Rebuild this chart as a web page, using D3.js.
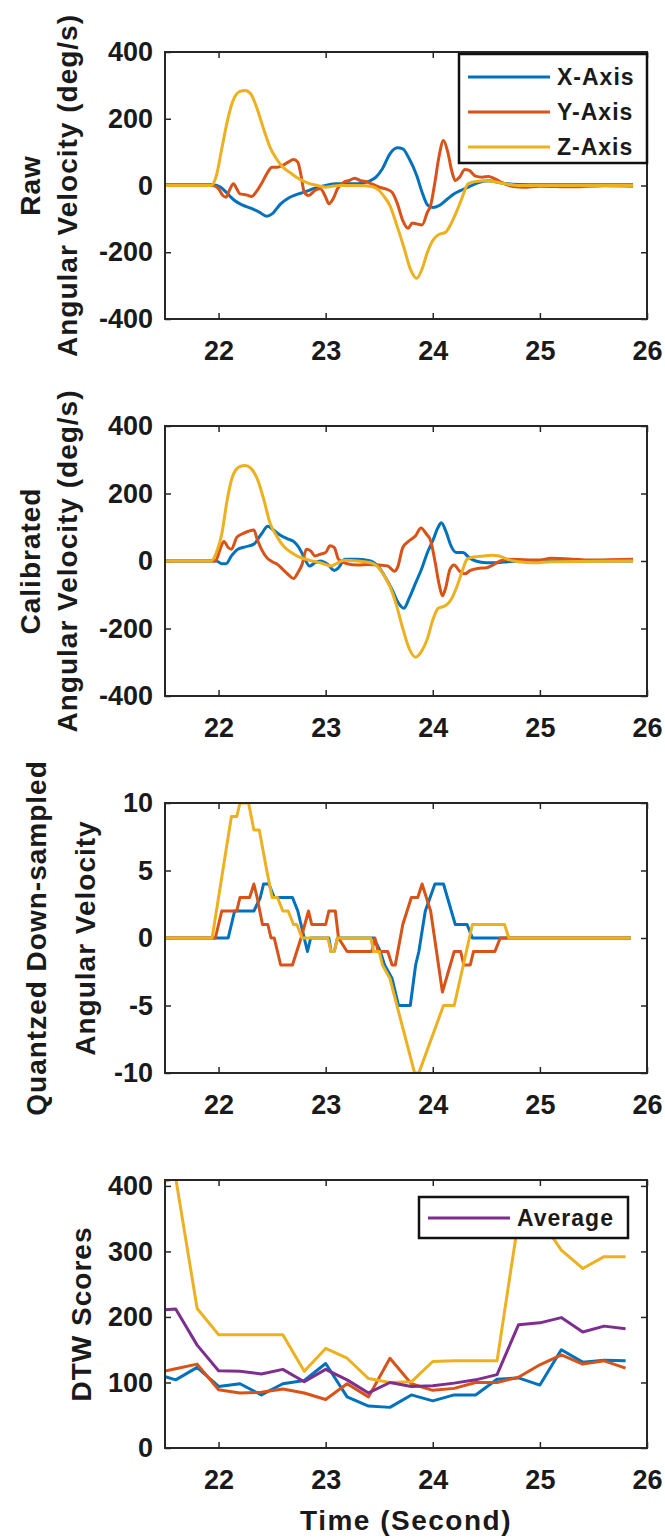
<!DOCTYPE html>
<html lang="en">
<head>
<meta charset="UTF-8" />
<title>Angular Velocity and DTW Scores</title>
<script src="https://d3js.org/d3.v7.min.js"></script>
<style>
  body { margin: 0; background: #fff; }
  svg { display: block; }
  text { font-family: "Liberation Sans", Arial, sans-serif; font-weight: bold; fill: #1a1a1a; }
  .tick text { font-size: 27px; }
  .axis line { stroke: #262626; stroke-width: 1.5; }
  .axis path { display: none; }
  .frame { fill: none; stroke: #262626; stroke-width: 2; }
  .ylab { font-size: 28px; letter-spacing: 1px; }
  .legend text { font-size: 23px; letter-spacing: 1px; }
</style>
</head>
<body>
<svg width="665" height="1538"></svg>
<script>
// time ticks shared by every panel
const timeTicks = [22, 23, 24, 25, 26];
const axisNames = ["X-Axis", "Y-Axis", "Z-Axis"];

// raw angular velocity (deg/s), [time, value]
const rawX = [[21.5,2],[21.95,2],[22.02,-5],[22.1,-30],[22.15,-45],[22.22,-58],[22.3,-68],[22.38,-80],[22.45,-92],[22.5,-85],[22.58,-55],[22.65,-38],[22.72,-28],[22.8,-20],[22.9,-8],[23.0,0],[23.1,5],[23.2,5],[23.3,5],[23.4,12],[23.47,25],[23.53,50],[23.6,95],[23.67,113],[23.72,110],[23.78,80],[23.85,30],[23.9,-20],[23.95,-58],[24.0,-66],[24.06,-60],[24.12,-45],[24.2,-25],[24.28,-12],[24.35,-2],[24.42,8],[24.52,14],[24.6,10],[24.7,5],[24.8,3],[25.0,2],[25.87,2]];
const rawY = [[21.5,0],[21.95,0],[22.0,-10],[22.04,-30],[22.07,-35],[22.1,-15],[22.14,5],[22.17,-10],[22.2,-25],[22.26,-28],[22.31,-33],[22.35,-20],[22.4,5],[22.45,35],[22.5,55],[22.55,55],[22.6,60],[22.65,70],[22.7,78],[22.74,70],[22.77,30],[22.8,-20],[22.84,-30],[22.9,-15],[22.95,-10],[23.0,-35],[23.03,-55],[23.07,-40],[23.11,-10],[23.17,10],[23.22,15],[23.27,22],[23.32,15],[23.37,12],[23.43,5],[23.5,-5],[23.56,-10],[23.62,-20],[23.67,-55],[23.72,-105],[23.77,-128],[23.81,-112],[23.85,-115],[23.9,-118],[23.95,-80],[23.98,-60],[24.02,10],[24.06,90],[24.1,135],[24.14,100],[24.18,40],[24.21,15],[24.25,25],[24.3,48],[24.34,45],[24.4,28],[24.46,25],[24.52,27],[24.58,20],[24.65,8],[24.75,-3],[24.85,-5],[25.0,-2],[25.3,-4],[25.6,-1],[25.87,-2]];
const rawZ = [[21.5,0],[21.93,0],[21.98,30],[22.03,110],[22.08,190],[22.13,250],[22.2,282],[22.25,285],[22.3,275],[22.36,230],[22.42,170],[22.48,115],[22.54,80],[22.6,55],[22.67,38],[22.75,20],[22.83,8],[22.92,0],[23.0,-5],[23.05,-3],[23.12,0],[23.3,0],[23.43,-3],[23.5,-15],[23.55,-35],[23.6,-60],[23.66,-115],[23.73,-185],[23.79,-250],[23.85,-278],[23.9,-250],[23.95,-200],[24.0,-165],[24.05,-148],[24.12,-140],[24.17,-115],[24.22,-80],[24.27,-40],[24.33,5],[24.4,12],[24.5,14],[24.6,10],[24.7,4],[24.8,0],[25.87,0]];

// calibrated angular velocity (deg/s)
const calX = [[21.5,0],[21.98,0],[22.03,-8],[22.07,-8],[22.12,15],[22.18,35],[22.25,42],[22.33,50],[22.4,80],[22.46,103],[22.5,95],[22.57,78],[22.65,65],[22.7,58],[22.75,40],[22.8,10],[22.85,-15],[22.9,-5],[22.95,0],[23.02,-10],[23.08,-28],[23.12,-20],[23.18,5],[23.3,5],[23.42,0],[23.5,-20],[23.56,-50],[23.62,-85],[23.68,-125],[23.73,-140],[23.78,-110],[23.84,-65],[23.9,-20],[23.95,25],[24.0,60],[24.05,100],[24.08,113],[24.12,90],[24.17,45],[24.22,25],[24.28,25],[24.34,10],[24.4,0],[24.5,-5],[24.6,-5],[24.7,-2],[24.8,0],[25.87,0]];
const calY = [[21.5,0],[21.97,0],[22.02,40],[22.05,58],[22.09,40],[22.12,35],[22.17,70],[22.22,80],[22.28,88],[22.33,92],[22.36,65],[22.4,35],[22.45,10],[22.5,-2],[22.55,-10],[22.6,-25],[22.65,-40],[22.7,-52],[22.74,-35],[22.78,-10],[22.82,35],[22.86,30],[22.9,15],[22.95,20],[23.0,25],[23.04,45],[23.08,40],[23.12,5],[23.2,-8],[23.3,-12],[23.4,-10],[23.5,-12],[23.58,-15],[23.64,-30],[23.67,-20],[23.72,40],[23.78,60],[23.84,75],[23.89,98],[23.94,80],[23.98,60],[24.02,0],[24.06,-70],[24.09,-103],[24.12,-80],[24.16,-25],[24.2,-12],[24.25,-30],[24.3,-38],[24.35,-28],[24.42,-22],[24.5,-20],[24.56,-12],[24.63,0],[24.7,5],[25.0,3],[25.1,8],[25.5,3],[25.87,5]];
const calZ = [[21.5,0],[21.93,0],[21.98,25],[22.03,80],[22.08,180],[22.13,250],[22.2,280],[22.25,283],[22.3,275],[22.36,245],[22.42,185],[22.48,113],[22.55,70],[22.61,43],[22.68,25],[22.75,12],[22.85,2],[22.95,-5],[23.05,-15],[23.1,-8],[23.17,2],[23.3,0],[23.42,-5],[23.48,-15],[23.53,-35],[23.6,-75],[23.66,-130],[23.72,-200],[23.78,-260],[23.84,-285],[23.89,-270],[23.95,-230],[24.0,-175],[24.05,-140],[24.12,-132],[24.17,-115],[24.22,-80],[24.27,-35],[24.32,5],[24.38,12],[24.46,14],[24.55,17],[24.62,15],[24.7,5],[24.8,-2],[24.95,-5],[25.1,-2],[25.87,0]];

// quantized down-sampled angular velocity
const qX = [[21.5,0],[22.09,0],[22.15,2],[22.33,2],[22.39,3],[22.42,4],[22.47,4],[22.52,3],[22.69,3],[22.74,2],[22.77,1],[22.8,0],[22.83,-1],[22.86,0],[23.03,0],[23.05,-1],[23.08,-1],[23.11,0],[23.45,0],[23.51,-1],[23.55,-2],[23.62,-3],[23.68,-5],[23.79,-5],[23.84,-2],[23.87,-1],[23.93,2],[24.02,4],[24.1,4],[24.21,1],[24.32,1],[24.37,0],[25.85,0]];
const qY = [[21.5,0],[21.97,0],[22.03,2],[22.17,2],[22.2,3],[22.29,3],[22.33,4],[22.36,3],[22.41,1],[22.46,1],[22.49,0],[22.52,0],[22.58,-2],[22.69,-2],[22.77,0],[22.84,2],[22.87,1],[23.0,1],[23.03,2],[23.09,2],[23.12,0],[23.2,-1],[23.43,-1],[23.46,0],[23.49,-1],[23.58,-1],[23.62,-2],[23.65,-2],[23.72,1],[23.8,3],[23.86,3],[23.9,4],[23.94,3],[23.98,2],[24.09,-4],[24.2,-1],[24.26,-1],[24.29,-2],[24.35,-2],[24.38,-1],[24.58,-1],[24.63,0],[25.85,0]];
const qZ = [[21.5,0],[21.94,0],[22.0,3],[22.06,6],[22.1,8],[22.12,9],[22.17,9],[22.2,10],[22.28,10],[22.33,8],[22.38,8],[22.45,5],[22.5,3],[22.55,3],[22.6,2],[22.65,2],[22.7,1],[22.73,1],[22.78,0],[23.02,0],[23.05,-1],[23.08,-1],[23.11,0],[23.42,0],[23.45,-1],[23.5,-1],[23.53,-2],[23.6,-3],[23.83,-10],[23.87,-10],[24.1,-5],[24.2,-5],[24.37,1],[24.67,1],[24.71,0],[25.85,0]];

// DTW scores, one value per window time
const dtwTime = [21.4,21.6,21.8,22.0,22.2,22.4,22.6,22.8,23.0,23.2,23.4,23.6,23.8,24.0,24.2,24.4,24.6,24.8,25.0,25.2,25.4,25.6,25.8];
const dtwX   = [114,104,123,94,98,81,98,103,129,78,64,62,81,72,81,81,105,107,96,150,131,134,133];
const dtwY   = [114,121,128,89,84,85,90,84,74,98,78,137,98,88,91,100,100,108,127,142,128,133,122];
const dtwZ   = [402,412,213,173,173,173,173,117,152,137,106,100,101,132,133,133,133,348,350,302,274,292,292];
const dtwAvg = [210,212,157,118,117,113,120,101,120,104,84,100,94,95,99,104,112,188,191,199,177,186,182];

const colors = { x: "#0072BD", y: "#D95319", z: "#EDB120", avg: "#7E2F8E" };

const svg = d3.select("svg");
const x = d3.scaleLinear().domain([21.5, 26]).range([165, 647]);

function drawPanel(p, idx) {
  const y = d3.scaleLinear().domain(p.yDomain).range([p.bottom, p.top]);
  const g = svg.append("g");

  g.append("clipPath").attr("id", "clip" + idx)
    .append("rect")
    .attr("x", x.range()[0]).attr("y", p.top)
    .attr("width", x.range()[1] - x.range()[0]).attr("height", p.bottom - p.top);

  // axes, MATLAB style: ticks inside on all four sides
  g.append("g").attr("class", "axis")
    .attr("transform", `translate(0,${p.bottom})`)
    .call(d3.axisBottom(x).tickValues(timeTicks).tickSize(-6).tickPadding(22).tickFormat(d => String(d)));
  g.append("g").attr("class", "axis")
    .attr("transform", `translate(0,${p.top})`)
    .call(d3.axisTop(x).tickValues(timeTicks).tickSize(-6).tickFormat(""));
  g.append("g").attr("class", "axis")
    .attr("transform", `translate(${x.range()[0]},0)`)
    .call(d3.axisLeft(y).tickValues(p.yTicks).tickSize(-6).tickPadding(12).tickFormat(d => String(d)));
  g.append("g").attr("class", "axis")
    .attr("transform", `translate(${x.range()[1]},0)`)
    .call(d3.axisRight(y).tickValues(p.yTicks).tickSize(-6).tickFormat(""));

  const line = d3.line().x(d => x(d[0])).y(d => y(d[1])).curve(p.smooth ? d3.curveMonotoneX : d3.curveLinear);
  p.series.forEach(s => {
    g.append("path")
      .datum(s.data)
      .attr("clip-path", `url(#clip${idx})`)
      .attr("fill", "none")
      .attr("stroke", s.color)
      .attr("stroke-width", 3)
      .attr("stroke-linejoin", "round")
      .attr("d", line);
  });

  g.append("rect").attr("class", "frame")
    .attr("x", x.range()[0]).attr("y", p.top)
    .attr("width", x.range()[1] - x.range()[0]).attr("height", p.bottom - p.top);

  // legend
  if (p.legend) {
    const L = p.legend;
    const lg = g.append("g").attr("class", "legend");
    lg.append("rect")
      .attr("x", L.x).attr("y", L.y).attr("width", L.w).attr("height", L.h)
      .attr("fill", "#fff").attr("stroke", "#111").attr("stroke-width", 2.5);
    L.items.forEach((it, i) => {
      const ly = L.y + L.first + i * L.step;
      lg.append("line")
        .attr("x1", L.x + 9).attr("x2", L.x + 91)
        .attr("y1", ly).attr("y2", ly)
        .attr("stroke", it.color).attr("stroke-width", 3);
      lg.append("text")
        .attr("x", L.x + 98).attr("y", ly + 8)
        .text(it.label);
    });
  }

  // y label (one or two lines)
  p.ylabel.forEach(l => {
    g.append("text").attr("class", "ylab")
      .attr("text-anchor", "middle")
      .attr("transform", `translate(${l.x},${(p.top + p.bottom) / 2}) rotate(-90)`)
      .text(l.text);
  });
}

const zip = (t, v) => t.map((d, i) => [d, v[i]]);

const panels = [
  {
    top: 52, bottom: 319, yDomain: [-400, 400], yTicks: [-400, -200, 0, 200, 400], smooth: true,
    series: [
      { data: rawX, color: colors.x },
      { data: rawY, color: colors.y },
      { data: rawZ, color: colors.z }
    ],
    legend: {
      x: 459, y: 54, w: 188, h: 109, first: 23, step: 35,
      items: axisNames.map((n, i) => ({ label: n, color: [colors.x, colors.y, colors.z][i] }))
    },
    ylabel: [{ x: 40, text: "Raw" }, { x: 77, text: "Angular Velocity (deg/s)" }]
  },
  {
    top: 426, bottom: 696, yDomain: [-400, 400], yTicks: [-400, -200, 0, 200, 400], smooth: true,
    series: [
      { data: calX, color: colors.x },
      { data: calY, color: colors.y },
      { data: calZ, color: colors.z }
    ],
    ylabel: [{ x: 40, text: "Calibrated" }, { x: 77, text: "Angular Velocity (deg/s)" }]
  },
  {
    top: 803, bottom: 1073, yDomain: [-10, 10], yTicks: [-10, -5, 0, 5, 10],
    series: [
      { data: qX, color: colors.x },
      { data: qY, color: colors.y },
      { data: qZ, color: colors.z }
    ],
    ylabel: [{ x: 46, text: "Quantzed Down-sampled" }, { x: 95, text: "Angular Velocity" }]
  },
  {
    top: 1180, bottom: 1448, yDomain: [0, 409], yTicks: [0, 100, 200, 300, 400],
    series: [
      { data: zip(dtwTime, dtwX), color: colors.x },
      { data: zip(dtwTime, dtwY), color: colors.y },
      { data: zip(dtwTime, dtwZ), color: colors.z },
      { data: zip(dtwTime, dtwAvg), color: colors.avg }
    ],
    legend: {
      x: 419, y: 1197, w: 209, h: 41, first: 21, step: 0,
      items: [{ label: "Average", color: colors.avg }]
    },
    ylabel: [{ x: 91, text: "DTW Scores" }]
  }
];

panels.forEach(drawPanel);

svg.append("text")
  .attr("x", (x.range()[0] + x.range()[1]) / 2)
  .attr("y", 1530)
  .attr("text-anchor", "middle")
  .style("font-size", "28px")
  .style("letter-spacing", "1.5px")
  .text("Time (Second)");
</script>
</body>
</html>
